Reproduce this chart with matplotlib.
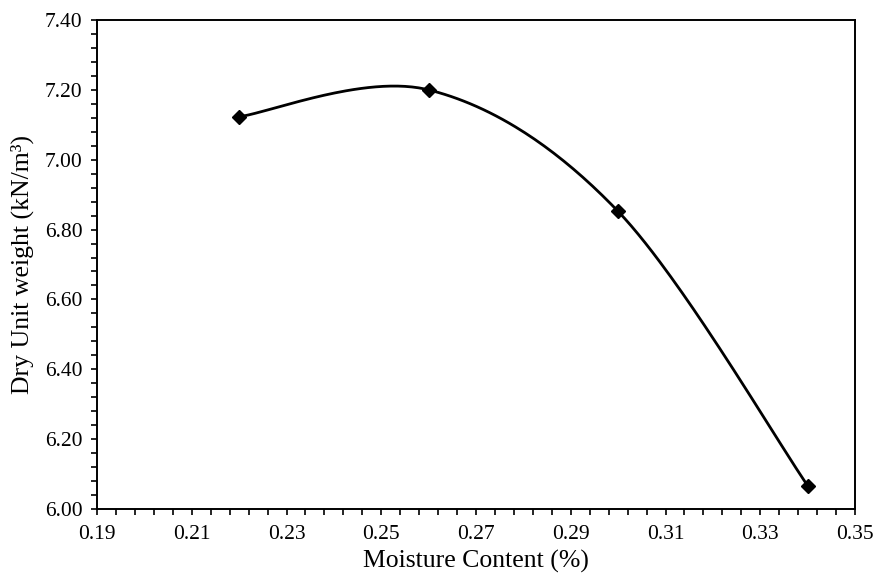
import numpy as np
import matplotlib
matplotlib.use("Agg")
import matplotlib.pyplot as plt
from matplotlib.ticker import FixedLocator, MultipleLocator, FormatStrFormatter

plt.rcParams['font.family'] = ['Liberation Serif', 'DejaVu Serif']

# data
moisture = [0.22, 0.26, 0.30, 0.34]
dry_unit_weight = [7.123, 7.20, 6.852, 6.067]

x_ticks = [0.19, 0.21, 0.23, 0.25, 0.27, 0.29, 0.31, 0.33, 0.35]
y_ticks = [6.00, 6.20, 6.40, 6.60, 6.80, 7.00, 7.20, 7.40]


def excel_smooth(x, y, n=60):
    """Bezier smoothing like Excel's smoothed line (tension 1/6)."""
    p = np.column_stack([x, y]).astype(float)
    p_ext = np.vstack([p[0], p, p[-1]])
    out = []
    t = np.linspace(0, 1, n)[:, None]
    for i in range(len(p) - 1):
        p0, p1, p2, p3 = p_ext[i], p_ext[i + 1], p_ext[i + 2], p_ext[i + 3]
        c1 = p1 + (p2 - p0) / 6.0
        c2 = p2 - (p3 - p1) / 6.0
        seg = ((1 - t) ** 3) * p1 + 3 * ((1 - t) ** 2) * t * c1 \
            + 3 * (1 - t) * t ** 2 * c2 + t ** 3 * p2
        out.append(seg if i == 0 else seg[1:])
    out = np.vstack(out)
    return out[:, 0], out[:, 1]


fig = plt.figure(figsize=(8.75, 5.83), dpi=100)
ax = fig.add_axes([97 / 875, 1 - 509 / 583, (855 - 97) / 875, (509 - 20) / 583])

sx, sy = excel_smooth(moisture, dry_unit_weight)
ax.plot(sx, sy, color='black', lw=2.0)
ax.plot(moisture, dry_unit_weight, ls='none', marker='D', ms=7, color='black')

ax.set_xlim(x_ticks[0], x_ticks[-1])
ax.set_ylim(y_ticks[0], y_ticks[-1])
ax.xaxis.set_major_locator(FixedLocator(x_ticks))
ax.xaxis.set_minor_locator(FixedLocator(np.linspace(0.19, 0.35, 41)))
ax.yaxis.set_major_locator(FixedLocator(y_ticks))
ax.yaxis.set_minor_locator(MultipleLocator(0.04))
ax.xaxis.set_major_formatter(FormatStrFormatter('%.2f'))
ax.yaxis.set_major_formatter(FormatStrFormatter('%.2f'))

for s in ax.spines.values():
    s.set_linewidth(1.4)
ax.tick_params(which='both', direction='out', length=4.5, width=1.2, labelsize=15.5)
ax.tick_params(axis='x', which='major', pad=7)
ax.tick_params(axis='y', which='major', pad=6)

ax.set_xlabel('Moisture Content (%)', fontsize=18.5, labelpad=4)
ax.set_ylabel('Dry Unit weight (kN/m³)', fontsize=18.5, labelpad=8)

plt.savefig('out.png', dpi=100, facecolor='white')
